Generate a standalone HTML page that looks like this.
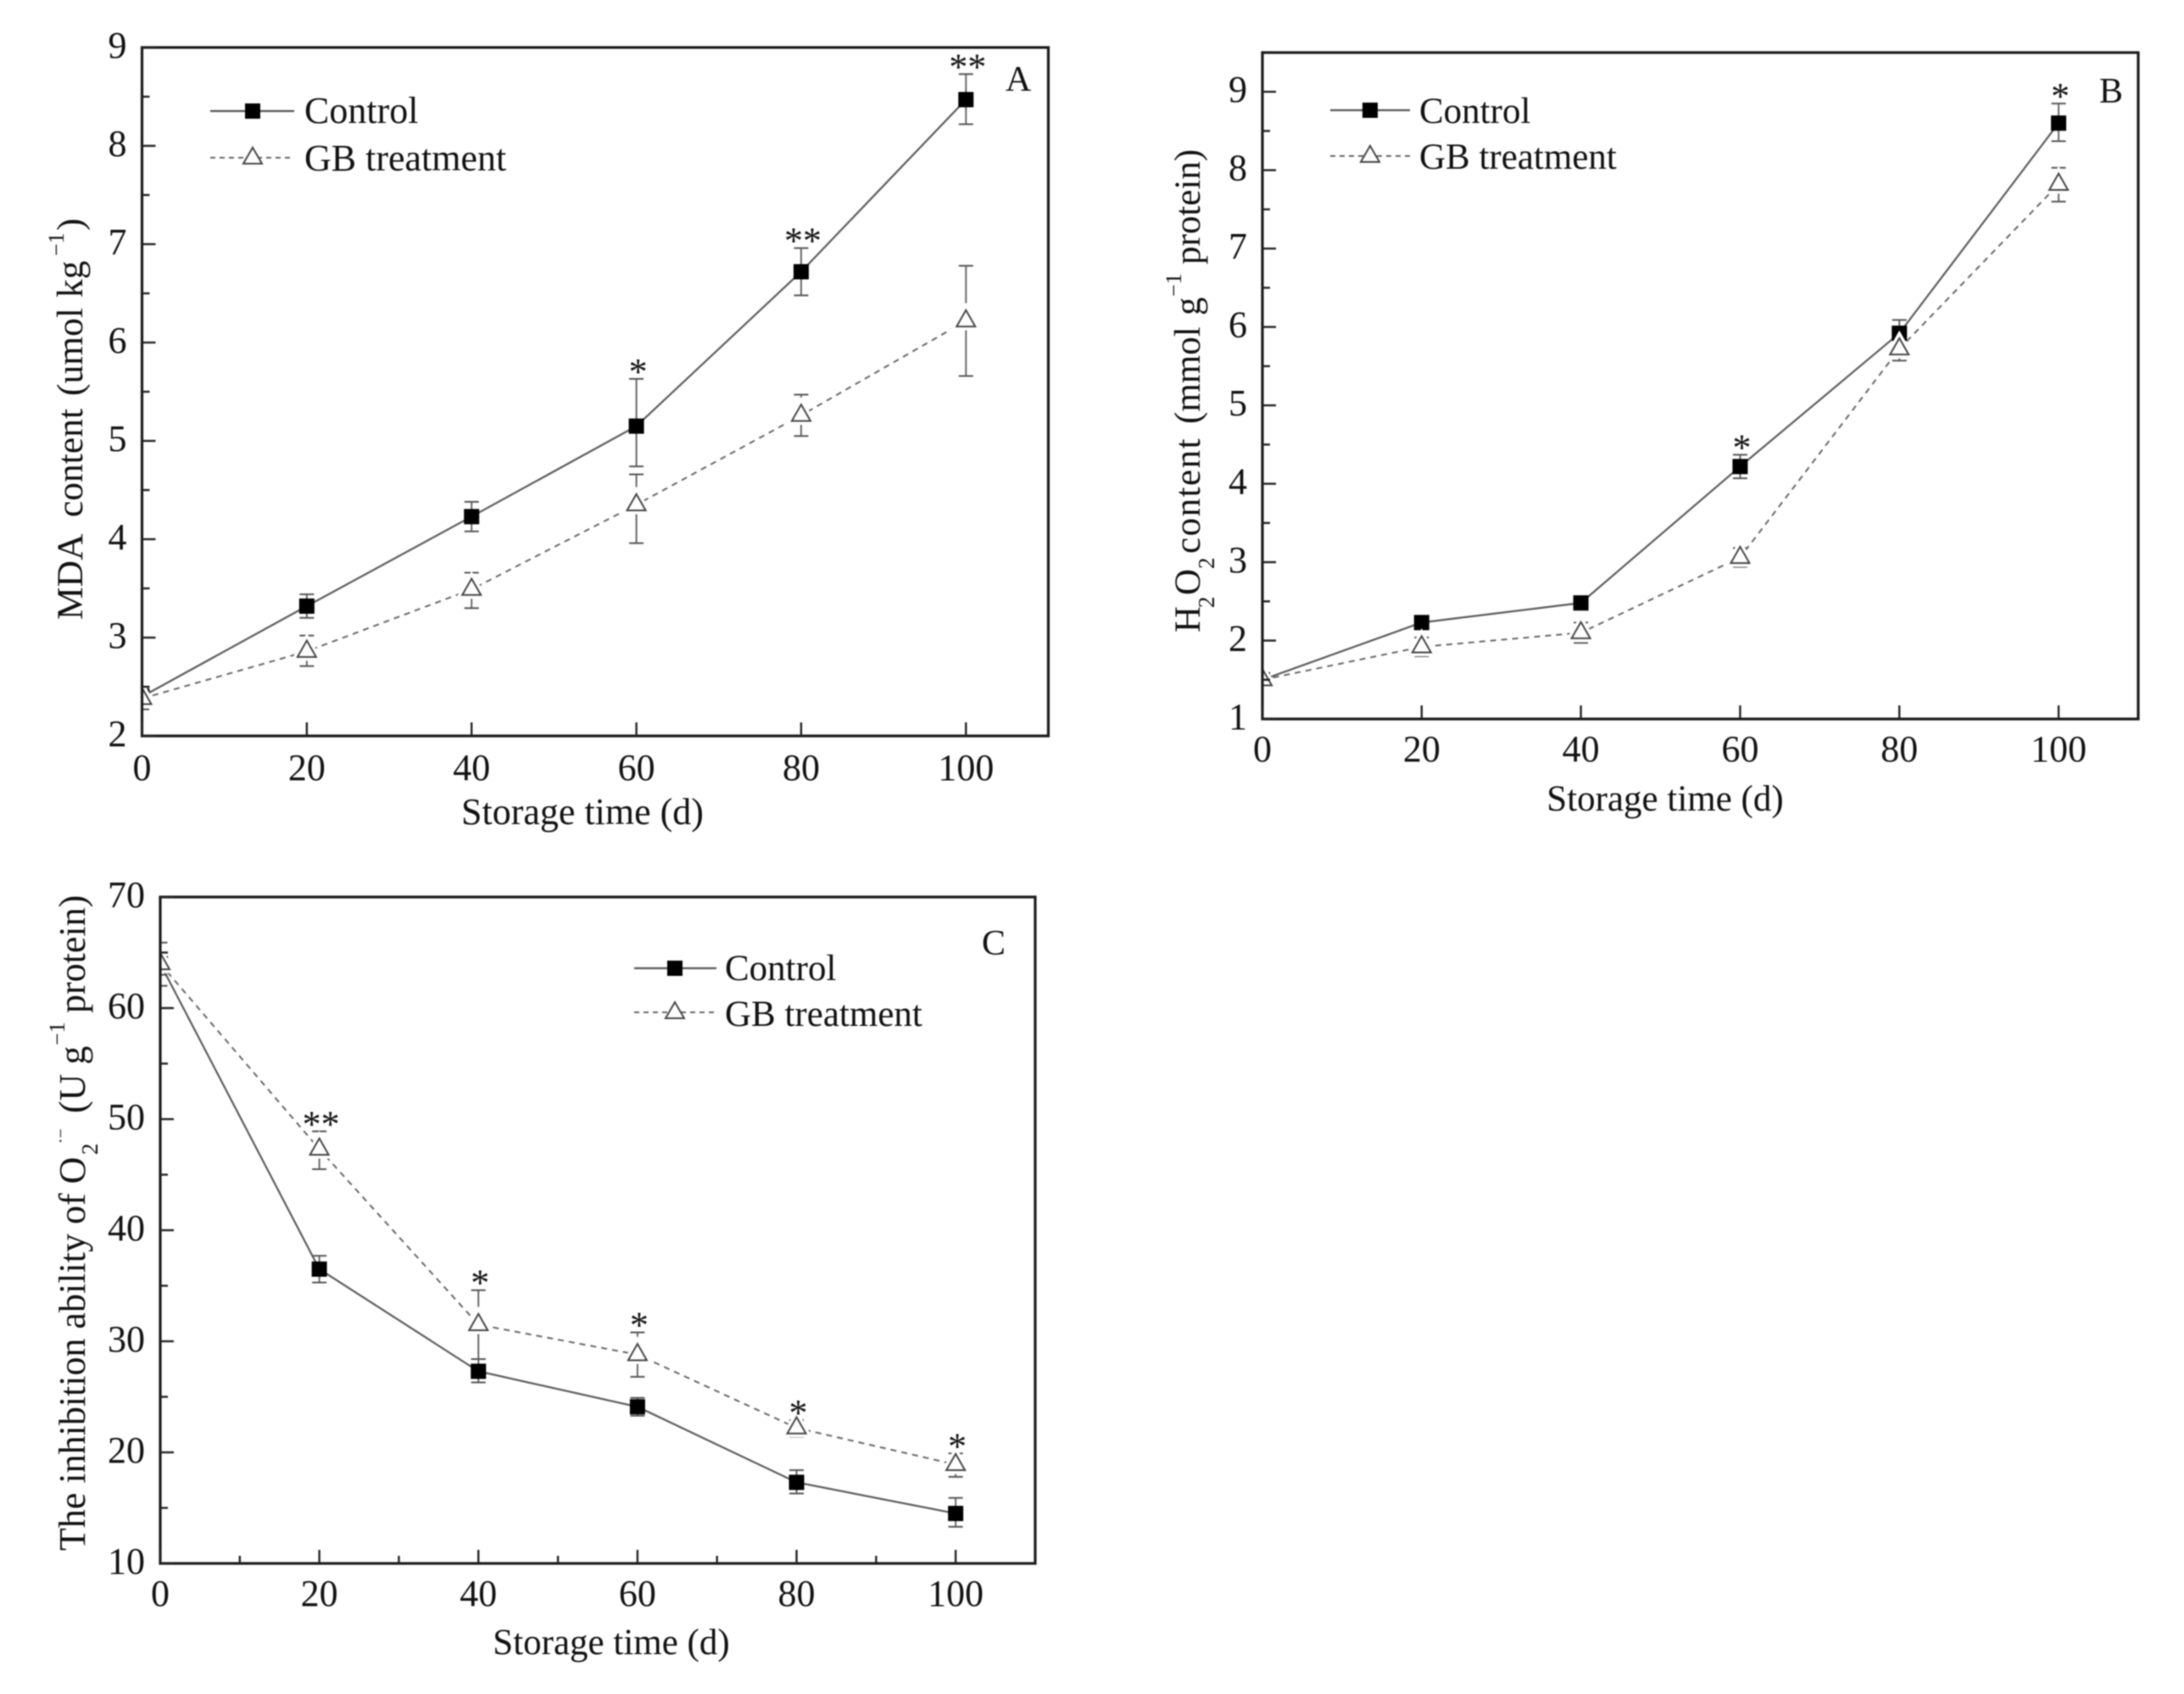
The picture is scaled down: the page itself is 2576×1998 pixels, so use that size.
<!DOCTYPE html>
<html lang="en">
<head>
<meta charset="utf-8">
<title>Storage time charts: MDA, H2O2 and O2 inhibition</title>
<style>
html,body{margin:0;padding:0;background:#fff;}
#figure{display:block;width:2576px;height:1998px;filter:blur(0.7px);}
text{font-family:"Liberation Serif",serif;fill:#111;}
.axis-title{font-size:44px;}
.legend-text{font-size:44px;}
.panel-letter{font-size:42px;}
.tick-label{font-size:44px;}
.star{font-size:44px;}
</style>
</head>
<body>
<svg id="figure" xmlns="http://www.w3.org/2000/svg" width="2576" height="1998" viewBox="0 0 2576 1998">
  <rect x="0" y="0" width="2576" height="1998" fill="#fff"/>
  <defs>
    <clipPath id="clip-a"><rect x="167" y="56" width="1070" height="812"/></clipPath>
    <clipPath id="clip-b"><rect x="1489" y="62" width="1033" height="786"/></clipPath>
    <clipPath id="clip-c"><rect x="189" y="1058" width="1032" height="787"/></clipPath>
  </defs>

  <g id="panel-a">
    <g id="marks-a" clip-path="url(#clip-a)"></g>
    <g id="axes-a"></g>
    <text class="axis-title" x="687" y="972" text-anchor="middle">Storage time (d)</text>
    <text class="axis-title" style="font-size:43.5px" transform="translate(97,731) rotate(-90)">MDA <tspan x="121">content </tspan><tspan x="264">(umol </tspan><tspan x="380">kg</tspan><tspan x="429" dy="-22" font-size="26">−1</tspan><tspan x="459" dy="22">)</tspan></text>
    <text class="panel-letter" x="1186" y="107">A</text>
    <g>
      <line x1="248" x2="347" y1="131" y2="131" stroke="#555" stroke-width="2.2"/>
      <rect x="289" y="122" width="18" height="18" fill="#000"/>
      <text class="legend-text" x="359" y="145">Control</text>
      <line x1="248" x2="347" y1="186" y2="186" stroke="#666" stroke-width="2" stroke-dasharray="6 5"/>
      <polygon points="298,174 309,193 287,193" fill="#fff" stroke="#444" stroke-width="2"/>
      <text class="legend-text" x="359" y="201">GB treatment</text>
    </g>
  </g>

  <g id="panel-b">
    <g id="marks-b" clip-path="url(#clip-b)"></g>
    <g id="axes-b"></g>
    <text class="axis-title" style="font-size:43px" x="1964" y="956" text-anchor="middle">Storage time (d)</text>
    <text class="axis-title" style="font-size:43px" transform="translate(1415,746) rotate(-90)">H<tspan x="29" dy="17" font-size="27">2</tspan><tspan x="44" dy="-17">O</tspan><tspan x="75" dy="17" font-size="27">2</tspan><tspan x="93" dy="-17" letter-spacing="1.5">content </tspan><tspan x="246">(mmol </tspan><tspan x="374">g</tspan><tspan x="396" dy="-22" font-size="26">−1</tspan><tspan x="434" dy="22">protein)</tspan></text>
    <text class="panel-letter" x="2476" y="121">B</text>
    <g>
      <line x1="1569" x2="1663" y1="130" y2="130" stroke="#555" stroke-width="2.2"/>
      <rect x="1607" y="121" width="18" height="18" fill="#000"/>
      <text class="legend-text" style="font-size:43px" x="1674" y="145">Control</text>
      <line x1="1569" x2="1663" y1="184" y2="184" stroke="#666" stroke-width="2" stroke-dasharray="6 5"/>
      <polygon points="1616,172 1627,191 1605,191" fill="#fff" stroke="#444" stroke-width="2"/>
      <text class="legend-text" style="font-size:43px" x="1674" y="199">GB treatment</text>
    </g>
  </g>

  <g id="panel-c">
    <g id="marks-c" clip-path="url(#clip-c)"></g>
    <g id="axes-c"></g>
    <text class="axis-title" style="font-size:43px" x="721" y="1951" text-anchor="middle">Storage time (d)</text>
    <text class="axis-title" transform="translate(100,1829) rotate(-90)">The inhibition ability of O<tspan x="467" dy="15" font-size="27">2</tspan><tspan x="480" dy="-37" font-size="20">·−</tspan><tspan x="516" dy="22">(U g</tspan><tspan x="596" dy="-24" font-size="26">−1</tspan><tspan x="634" dy="24">protein)</tspan></text>
    <text class="panel-letter" x="1158" y="1126">C</text>
    <g>
      <line x1="748" x2="845" y1="1142" y2="1142" stroke="#555" stroke-width="2.2"/>
      <rect x="787" y="1133" width="18" height="18" fill="#000"/>
      <text class="legend-text" style="font-size:43px" x="855" y="1156">Control</text>
      <line x1="748" x2="845" y1="1194" y2="1194" stroke="#666" stroke-width="2" stroke-dasharray="6 5"/>
      <polygon points="796,1182 807,1201 785,1201" fill="#fff" stroke="#444" stroke-width="2"/>
      <text class="legend-text" style="font-size:43px" x="855" y="1210">GB treatment</text>
    </g>
  </g>
</svg>

<script>
const days = [0, 20, 40, 60, 80, 100];
const xTickLabels = [0, 20, 40, 60, 80, 100];

const aControl = [2.40, 3.32, 4.23, 5.15, 6.72, 8.47];
const aControlHi = [2.50, 3.44, 4.38, 5.63, 6.96, 8.73];
const aControlLo = [2.30, 3.20, 4.08, 4.74, 6.48, 8.22];
const aGb = [2.38, 2.86, 3.49, 4.35, 5.26, 6.22];
const aGbHi = [2.48, 3.02, 3.66, 4.66, 5.47, 6.78];
const aGbLo = [2.27, 2.71, 3.30, 3.96, 5.05, 5.66];
const aStars = ["", "", "", "*", "**", "**"];
const aYTicks = [2, 3, 4, 5, 6, 7, 8, 9];
const aYMinor = [2.5, 3.5, 4.5, 5.5, 6.5, 7.5, 8.5];
const aXMinor = [];

const bControl = [1.50, 2.23, 2.48, 4.22, 5.92, 8.60];
const bControlHi = [1.57, 2.30, 2.53, 4.37, 6.09, 8.85];
const bControlLo = [1.43, 2.16, 2.43, 4.07, 5.75, 8.37];
const bGb = [1.50, 1.92, 2.10, 3.06, 5.72, 7.82];
const bGbHi = [1.57, 2.04, 2.23, 3.18, 5.87, 8.03];
const bGbLo = [1.43, 1.80, 1.97, 2.94, 5.57, 7.60];
const bStars = ["", "", "", "*", "", "*"];
const bYTicks = [1, 2, 3, 4, 5, 6, 7, 8, 9];
const bYMinor = [1.5, 2.5, 3.5, 4.5, 5.5, 6.5, 7.5, 8.5];
const bXMinor = [];

const cControl = [64.0, 36.5, 27.3, 24.1, 17.3, 14.5];
const cControlHi = [65.0, 37.7, 28.4, 24.9, 18.4, 15.9];
const cControlLo = [63.0, 35.3, 26.3, 23.3, 16.3, 13.3];
const cGb = [64.0, 47.3, 31.5, 28.8, 22.2, 18.9];
const cGbHi = [65.9, 48.9, 34.6, 30.8, 22.9, 19.9];
const cGbLo = [62.0, 45.5, 28.4, 26.8, 21.4, 17.8];
const cStars = ["", "**", "*", "*", "*", "*"];
const cYTicks = [10, 20, 30, 40, 50, 60, 70];
const cYMinor = [15, 25, 35, 45, 55, 65];
const cXMinor = [10, 30, 50, 70, 90];

const NS = "http://www.w3.org/2000/svg";

function svgEl(tag, parent) {
  const el = document.createElementNS(NS, tag);
  parent.appendChild(el);
  return el;
}

function setAll(el, attrs) {
  for (const k in attrs) el.setAttribute(k, attrs[k]);
}

function drawAxes(p, xS, yS) {
  const g = document.getElementById("axes-" + p.id);

  const frame = svgEl("rect", g);
  
  
  setAll(frame, {x: p.left, y: p.top, width: p.right - p.left, height: p.bottom - p.top, fill: "none", stroke: "#1a1a1a", "stroke-width": 3.2});

  xTickLabels.forEach(function (v) {
    const t = svgEl("line", g);
    
    
    setAll(t, {x1: xS(v), x2: xS(v), y1: p.bottom, y2: p.bottom - 16, stroke: "#222", "stroke-width": 2.4});
    const l = svgEl("text", g);
    
    
    setAll(l, {x: xS(v), y: p.bottom + p.xLabelGap, "text-anchor": "middle", class: "tick-label"});
    l.textContent = v;
  });

  p.xMinor.forEach(function (v) {
    const t = svgEl("line", g);
    
    
    setAll(t, {x1: xS(v), x2: xS(v), y1: p.bottom, y2: p.bottom - 9, stroke: "#222", "stroke-width": 2.4});
  });

  p.yTicks.forEach(function (v) {
    const t = svgEl("line", g);
    
    
    setAll(t, {x1: p.left, x2: p.left + 16, y1: yS(v), y2: yS(v), stroke: "#222", "stroke-width": 2.4});
    const l = svgEl("text", g);
    
    
    setAll(l, {x: p.left - 18, y: yS(v) + 12, "text-anchor": "end", class: "tick-label"});
    l.textContent = v;
  });

  p.yMinor.forEach(function (v) {
    const t = svgEl("line", g);
    
    
    setAll(t, {x1: p.left, x2: p.left + 9, y1: yS(v), y2: yS(v), stroke: "#222", "stroke-width": 2.4});
  });
}

function drawSeries(g, s, xS, yS) {
  const line = svgEl("polyline", g);
  
  
  const pts = days.map(function (d, i) { return xS(d) + "," + yS(s.values[i]); }).join(" ");
  setAll(line, {points: pts, fill: "none", stroke: s.dash ? "#666" : "#5a5a5a", "stroke-width": s.dash ? 2 : 2.2});
  if (s.dash) line.setAttribute("stroke-dasharray", "7 6");

  days.forEach(function (d, i) {
    const x = xS(d);
    const stem = svgEl("line", g);
    
    
    setAll(stem, {x1: x, x2: x, y1: yS(s.hi[i]), y2: yS(s.lo[i]), stroke: "#666", "stroke-width": 2});

    const capHi = svgEl("line", g);
    
    
    setAll(capHi, {x1: x - 8.5, x2: x + 8.5, y1: yS(s.hi[i]), y2: yS(s.hi[i]), stroke: "#555", "stroke-width": 2});

    const capLo = svgEl("line", g);
    
    
    setAll(capLo, {x1: x - 8.5, x2: x + 8.5, y1: yS(s.lo[i]), y2: yS(s.lo[i]), stroke: "#555", "stroke-width": 2});
  });
}

function drawMarkers(g, s, xS, yS) {
  days.forEach(function (d, i) {
    const x = xS(d), y = yS(s.values[i]);
    if (s.dash) {
      const pts = x + "," + (y - 12.7) + " " + (x + 11) + "," + (y + 6.6) + " " + (x - 11) + "," + (y + 6.6);
      const halo = svgEl("polygon", g);
      
      
      setAll(halo, {points: pts, fill: "#fff", stroke: "#fff", "stroke-width": 9});
      const m = svgEl("polygon", g);
      
      
      setAll(m, {points: pts, fill: "#fff", stroke: "#444", "stroke-width": 2});
    } else {
      const m = svgEl("rect", g);
      
      
      setAll(m, {x: x - 9, y: y - 9, width: 18, height: 18, fill: "#000"});
    }
  });
}

function drawStars(g, stars, tops, xS, yS) {
  days.forEach(function (d, i) {
    if (!stars[i]) return;
    const st = svgEl("text", g);
    
    
    setAll(st, {x: xS(d) + 2, y: yS(tops[i]) + 6, "text-anchor": "middle", class: "star"});
    st.textContent = stars[i];
  });
}

function drawPanel(p) {
  const xS = function (v) { return p.left + (v / p.xMax) * (p.right - p.left); };
  const yS = function (v) { return p.bottom - ((v - p.yMin) / (p.yMax - p.yMin)) * (p.bottom - p.top); };
  const g = document.getElementById("marks-" + p.id);
  drawSeries(g, p.control, xS, yS);
  drawSeries(g, p.gb, xS, yS);
  drawMarkers(g, p.control, xS, yS);
  drawMarkers(g, p.gb, xS, yS);
  drawAxes(p, xS, yS);
  drawStars(document.getElementById("axes-" + p.id), p.stars, p.starTops, xS, yS);
}

drawPanel({
  id: "a", left: 167.5, right: 1236.5, top: 56, bottom: 868, xMax: 110, yMin: 2, yMax: 9, xLabelGap: 52,
  yTicks: aYTicks, yMinor: aYMinor, xMinor: aXMinor, stars: aStars, starTops: aControlHi,
  control: {key: "control", values: aControl, hi: aControlHi, lo: aControlLo, dash: false},
  gb: {key: "gb", values: aGb, hi: aGbHi, lo: aGbLo, dash: true}
});

drawPanel({
  id: "b", left: 1489, right: 2522, top: 62, bottom: 848, xMax: 110, yMin: 1, yMax: 9.5, xLabelGap: 50,
  yTicks: bYTicks, yMinor: bYMinor, xMinor: bXMinor, stars: bStars, starTops: bControlHi,
  control: {key: "control", values: bControl, hi: bControlHi, lo: bControlLo, dash: false},
  gb: {key: "gb", values: bGb, hi: bGbHi, lo: bGbLo, dash: true}
});

drawPanel({
  id: "c", left: 189, right: 1221, top: 1058, bottom: 1844, xMax: 110, yMin: 10, yMax: 70, xLabelGap: 50,
  yTicks: cYTicks, yMinor: cYMinor, xMinor: cXMinor, stars: cStars, starTops: cGbHi,
  control: {key: "control", values: cControl, hi: cControlHi, lo: cControlLo, dash: false},
  gb: {key: "gb", values: cGb, hi: cGbHi, lo: cGbLo, dash: true}
});
</script>
</body>
</html>
